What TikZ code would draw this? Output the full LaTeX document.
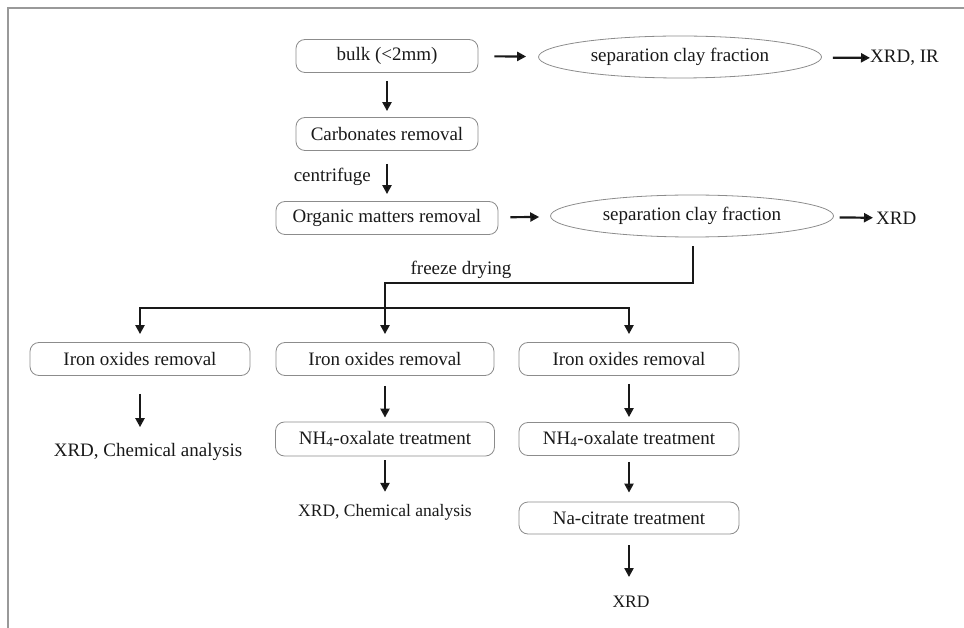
\documentclass[tikz,border=0pt]{standalone}
\usepackage{fontspec}
\setmainfont{Liberation Serif}
\usepackage{tikz}
\usetikzlibrary{arrows.meta,shapes.geometric}
\definecolor{boxgray}{gray}{0.55}
\definecolor{framegray}{gray}{0.6}
\definecolor{ink}{gray}{0.1}
\tikzset{
  stepbox/.style={draw=boxgray, line width=0.8pt, rounded corners=9pt, minimum height=33pt, inner sep=0pt},
  fraction/.style={draw=boxgray, line width=0.8pt, ellipse, minimum width=283pt, minimum height=42pt, inner sep=0pt},
  result/.style={inner sep=0pt},
  small/.style={font=\fontsize{17.5}{20}\selectfont},
  flow/.style={draw=ink, line width=2.2pt, -{Triangle[length=9pt,width=9pt]}, shorten <=8pt, shorten >=6pt}
}

\begin{document}
\begin{tikzpicture}[x=1pt, y=-1pt, font=\fontsize{19}{22}\selectfont, text=ink]
  \useasboundingbox (0,0) rectangle (964,628);
  \draw[framegray, line width=2pt] (964,8) -- (8,8) -- (8,628);
  % upper part
  \node[stepbox, minimum width=182pt] (bulk) at (387,56) {bulk (<2mm)};
  \node[fraction] (sep1) at (680,57) {separation clay fraction};
  \node[result, anchor=west] (xrdir) at (870,58) {XRD, IR};
  \node[stepbox, minimum width=182pt] (carb) at (387,134) {Carbonates removal};
  \node[result, anchor=east] (cent) at (371,177) {centrifuge};
  \node[stepbox, minimum width=222pt] (org) at (387,218) {Organic matters removal};
  \node[fraction] (sep2) at (692,216) {separation clay fraction};
  \node[result, anchor=west] (xrd1) at (876,218) {XRD};
  \node[result] (dry) at (461,270) {freeze drying};
  \coordinate (fork) at (693,283);
  \coordinate (split) at (385,308);
  % three branches
  \node[stepbox, minimum width=220pt] (iron1) at (140,359) {Iron oxides removal};
  \node[stepbox, minimum width=218pt] (iron2) at (385,359) {Iron oxides removal};
  \node[stepbox, minimum width=220pt] (iron3) at (629,359) {Iron oxides removal};
  \node[result] (chem1) at (148,452) {XRD, Chemical analysis};
  \node[stepbox, minimum width=219pt, minimum height=34pt] (oxa2) at (385,439) {NH\textsubscript{4}-oxalate treatment};
  \node[stepbox, minimum width=220pt, minimum height=33pt] (oxa3) at (629,439) {NH\textsubscript{4}-oxalate treatment};
  \node[result, small] (chem2) at (385,512) {XRD, Chemical analysis};
  \node[stepbox, minimum width=220pt, minimum height=32pt] (cit) at (629,518) {Na-citrate treatment};
  \node[result, small] (xrd2) at (631,602) {XRD};

  \path[flow]
  (bulk) edge [shorten <=16pt, shorten >=12pt] (sep1)
  (sep1) edge [shorten <=11pt, shorten >=0pt] (xrdir)
  (bulk) edge (carb)
  (carb) edge [shorten <=13pt, shorten >=7pt] (org)
  (org) edge [shorten <=12pt, shorten >=11pt] (sep2)
  (sep2) edge [shorten <=6pt, shorten >=3pt] (xrd1)
  (iron1) edge [shorten <=18pt, shorten >=16pt] (iron1 |- chem1.north)
  (iron2) edge [shorten <=10pt, shorten >=4pt] (oxa2)
  (oxa2) edge [shorten <=4pt, shorten >=12pt] (chem2)
  (iron3) edge [shorten <=8pt, shorten >=5pt] (oxa3)
  (oxa3) edge [shorten <=6pt, shorten >=9pt] (cit)
  (cit) edge [shorten <=11pt, shorten >=19pt] (cit |- xrd2.north)
  ;
  \draw[flow, shorten <=9pt, shorten >=8pt] (fork |- sep2.south) -- (fork) -| (iron2.north);
  \draw[flow, shorten <=0pt, shorten >=8pt] (split) -| (iron1.north);
  \draw[flow, shorten <=0pt, shorten >=8pt] (split) -| (iron3.north);
\end{tikzpicture}
\end{document}
